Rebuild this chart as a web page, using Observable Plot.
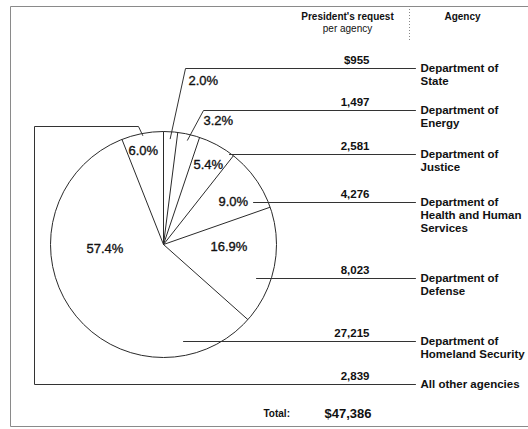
<!DOCTYPE html>
<html>
<head>
<meta charset="utf-8">
<script src="https://cdn.jsdelivr.net/npm/d3@7"></script>
<script src="https://cdn.jsdelivr.net/npm/@observablehq/plot@0.6"></script>
<style>
  html, body { margin: 0; padding: 0; background: #fff; }
</style>
</head>
<body>
<div id="chart"></div>
<script>
// ---- data ----
const agencies = [
  "Department of\nState",
  "Department of\nEnergy",
  "Department of\nJustice",
  "Department of\nHealth and Human\nServices",
  "Department of\nDefense",
  "Department of\nHomeland Security",
  "All other agencies"
];
const requests = [955, 1497, 2581, 4276, 8023, 27215, 2839];
const headerValue = "President's request";
const headerValue2 = "per agency";
const headerAgency = "Agency";
const totalLabel = "Total:";

// ---- layout (pixels) ----
const W = 528, H = 429;
const center = {x: 163, y: 244};
const radius = 113;
const rowY = [68, 110, 154, 202, 278, 341, 384];
const valueRight = 369;
const lineEnd = 415;
const agencyX = 420;
const pctPos = [[188, 80], [203, 120], [193, 164], [218, 201], [210, 246], [86, 248], [128, 150]];
const leaderStartX = [null, null, 229, 253, 256, 183, null];
const leaderInnerR = [106, 107, null, null, null, null, 111];
const leaderElbows = [
  [[185, 68]],
  [[203, 110]],
  [],
  [],
  [],
  [],
  [[138, 126], [34, 126], [34, 384]]
];
const frame = [[528, 6], [10, 6], [10, 426], [528, 426]];
const sepX = 409;

// ---- derived ----
const total = d3.sum(requests);
const arcs = d3.pie().sort(null).value(d => d)(requests);
const polar = (a, r) => ({x: center.x + r * Math.sin(a), y: center.y - r * Math.cos(a)});
const boundaries = arcs.map(a => {
  const p = polar(a.startAngle, radius);
  return {x1: center.x, y1: center.y, x2: p.x, y2: p.y};
});

const leaderPts = [];
arcs.forEach((a, i) => {
  let start;
  if (leaderStartX[i] != null) start = {x: leaderStartX[i], y: rowY[i]};
  else start = polar((a.startAngle + a.endAngle) / 2, leaderInnerR[i]);
  const pts = [[start.x, start.y], ...leaderElbows[i], [lineEnd, rowY[i]]];
  pts.forEach(([x, y]) => leaderPts.push({i, x, y}));
});

const fmt = d3.format(",");
const rows = requests.map((v, i) => ({
  i,
  agency: agencies[i],
  valueText: (i === 0 ? "$" : "") + fmt(v),
  pct: (v / total * 100).toFixed(1) + "%",
  rowY: rowY[i],
  px: pctPos[i][0],
  py: pctPos[i][1]
}));

const font = "Liberation Sans, Arial, Helvetica, sans-serif";

const chart = Plot.plot({
  width: W,
  height: H,
  margin: 0,
  x: {type: "identity", axis: null},
  y: {type: "identity", axis: null},
  style: {fontFamily: font, background: "#fff", color: "#111"},
  marks: [
    // outer frame
    Plot.line(frame, {x: d => d[0], y: d => d[1], stroke: "#8a8a8a", strokeWidth: 1}),
    Plot.ruleX([sepX], {y1: 6, y2: 42, stroke: "#888", strokeDasharray: "1,2"}),
    // pie outline and slice boundaries
    Plot.dot([center], {x: "x", y: "y", r: radius, stroke: "#2a2a2a", strokeWidth: 1, fill: "#fff"}),
    Plot.link(boundaries, {x1: "x1", y1: "y1", x2: "x2", y2: "y2", stroke: "#2a2a2a", strokeWidth: 1}),
    // leader lines
    Plot.line(leaderPts, {x: "x", y: "y", z: "i", stroke: "#333", strokeWidth: 1, curve: "linear"}),
    // percentage labels
    Plot.text(rows, {x: "px", y: "py", text: "pct", textAnchor: "start", fontSize: 13, fill: "#111", stroke: "#111", strokeWidth: 0.35}),
    // values
    Plot.text(rows, {x: valueRight, y: d => d.rowY - 8, text: "valueText", textAnchor: "end", fontSize: 11.5, fontWeight: "bold", fill: "#111"}),
    // agency names
    Plot.text(rows, {x: agencyX, y: d => d.rowY - 5, text: "agency", textAnchor: "start", lineAnchor: "top", lineHeight: 1.1, fontSize: 11.5, fontWeight: "bold", fill: "#111"}),
    // headers
    Plot.text([headerValue], {x: 347, y: 16, text: d => d, fontSize: 10, fontWeight: "bold", fill: "#111"}),
    Plot.text([headerValue2], {x: 347, y: 28, text: d => d, fontSize: 10, fill: "#111"}),
    Plot.text([headerAgency], {x: 462, y: 16, text: d => d, fontSize: 10, fontWeight: "bold", fill: "#111"}),
    // total
    Plot.text([totalLabel], {x: 263, y: 413, text: d => d, textAnchor: "start", fontSize: 10, fontWeight: "bold", fill: "#111"}),
    Plot.text([total], {x: 371, y: 413, text: d => "$" + fmt(d), textAnchor: "end", fontSize: 13, fontWeight: "bold", fill: "#111"})
  ]
});
document.getElementById("chart").appendChild(chart);
</script>
</body>
</html>
